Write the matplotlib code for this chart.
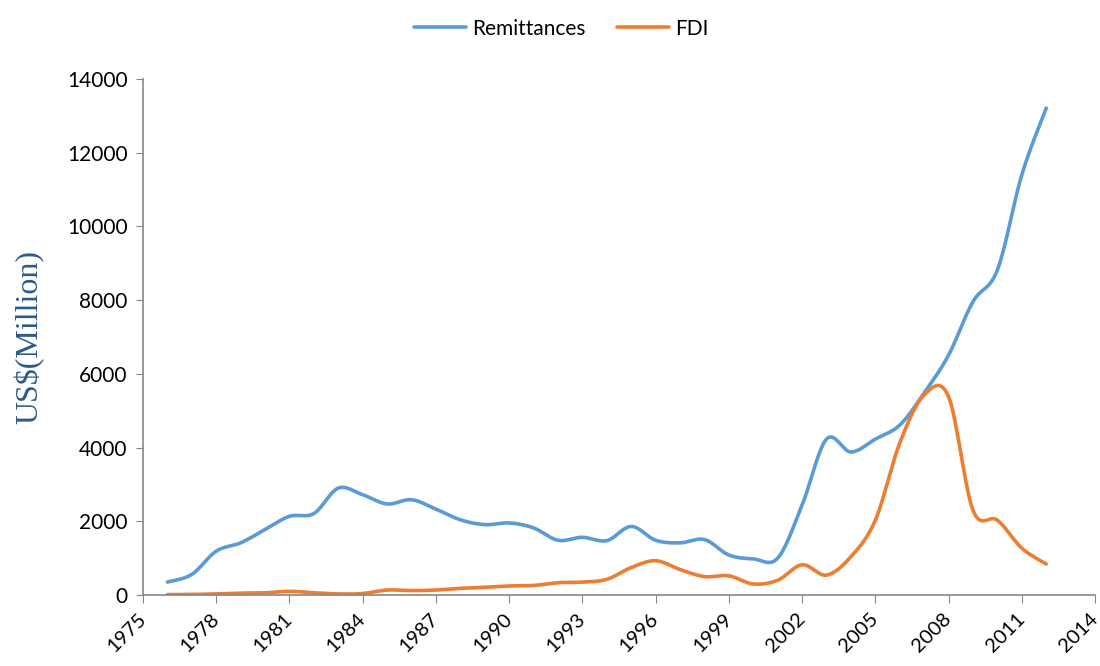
import numpy as np
import matplotlib
matplotlib.use("Agg")
import matplotlib.pyplot as plt

years = list(range(1976, 2013))
remittances = [350, 560, 1190, 1415, 1775, 2135, 2210, 2900, 2720, 2470,
               2585, 2330, 2040, 1910, 1955, 1820, 1485, 1565, 1475, 1860,
               1485, 1415, 1505, 1085, 980, 1000, 2440, 4230, 3880, 4230,
               4610, 5480, 6510, 7960, 8820, 11400, 13210]
fdi = [10, 15, 30, 50, 60, 100, 60, 30, 40, 135,
       120, 135, 180, 210, 245, 260, 335, 350, 425, 745,
       930, 690, 500, 520, 300, 400, 820, 540, 1040, 2030,
       4120, 5430, 5380, 2300, 2030, 1270, 840]
xticks = list(range(1975, 2015, 3))
yticks = list(range(0, 14001, 2000))


def smooth(x, y, n=20):
    # catmull-rom style bezier, similar to a spreadsheet "smoothed line"
    x = np.asarray(x, float)
    y = np.asarray(y, float)
    px = np.concatenate([[x[0]], x, [x[-1]]])
    py = np.concatenate([[y[0]], y, [y[-1]]])
    t = np.linspace(0, 1, n)[:, None]
    xs, ys = [], []
    for i in range(1, len(px) - 2):
        p0 = np.array([px[i], py[i]])
        p3 = np.array([px[i + 1], py[i + 1]])
        c1 = p0 + (p3 - np.array([px[i - 1], py[i - 1]])) / 6
        c2 = p3 - (np.array([px[i + 2], py[i + 2]]) - p0) / 6
        pts = ((1 - t) ** 3) * p0 + 3 * ((1 - t) ** 2) * t * c1 \
            + 3 * (1 - t) * t ** 2 * c2 + t ** 3 * p3
        xs.append(pts[:, 0])
        ys.append(pts[:, 1])
    return np.concatenate(xs), np.concatenate(ys)


plt.rcParams['font.family'] = ['Lato', 'DejaVu Sans']

fig = plt.figure(figsize=(11, 6.66), dpi=100)
ax = fig.add_axes([0.130, 0.1066, 0.8655, 0.7748])

sx, sy = smooth(years, remittances)
ax.plot(sx, sy, color='#5B9BD5', lw=2.6, label='Remittances', solid_capstyle='round')
sx, sy = smooth(years, fdi)
ax.plot(sx, sy, color='#ED7D31', lw=2.6, label='FDI', solid_capstyle='round')

ax.set_xlim(1975, 2014)
ax.set_ylim(0, 14000)
ax.set_xticks(xticks)
ax.set_yticks(yticks)
ax.set_xticklabels([str(v) for v in xticks], rotation=45, ha='right',
                   va='center', rotation_mode='anchor', fontsize=14.5)
ax.tick_params(axis='y', labelsize=15, length=5, color='#868686', pad=6)
ax.tick_params(axis='x', length=6, color='#868686', pad=9)

for s in ['top', 'right']:
    ax.spines[s].set_visible(False)
for s in ['left', 'bottom']:
    ax.spines[s].set_color('#868686')
    ax.spines[s].set_linewidth(1.2)

ax.set_ylabel('US$(Million)', fontsize=23, color='#2E5A87',
              family=['Liberation Serif', 'DejaVu Serif'], labelpad=16)

fig.legend(loc='upper center', bbox_to_anchor=(0.51, 1.0), ncol=2,
           frameon=False, fontsize=15, handlelength=2.5, handletextpad=0.3,
           columnspacing=1.5)

fig.savefig('out.png', dpi=100)
